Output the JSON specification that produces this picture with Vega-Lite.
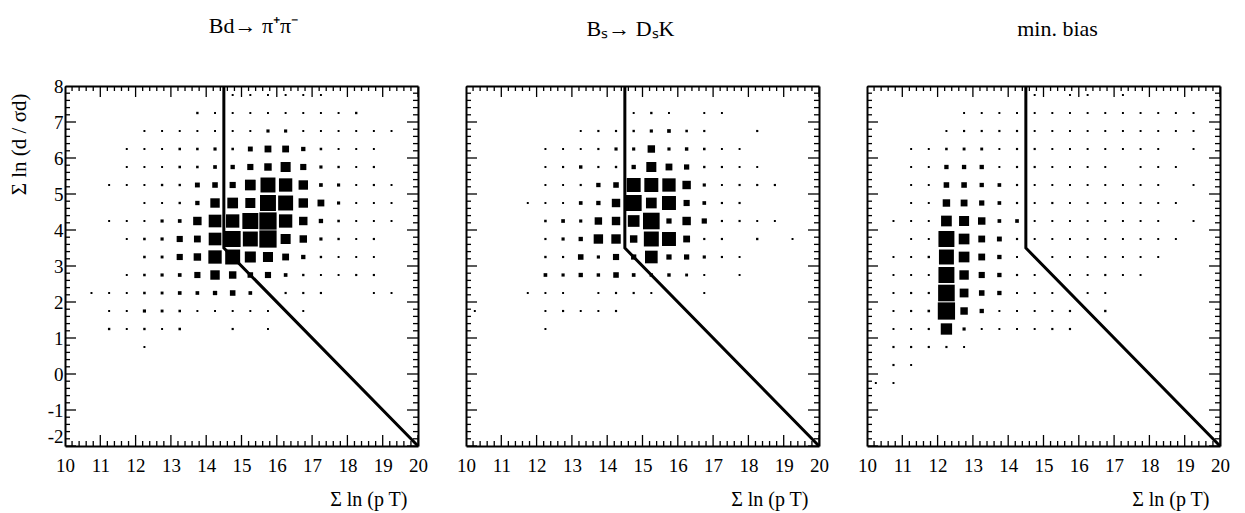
{
"$schema": "https://vega.github.io/schema/vega-lite/v6.json",
"padding": {"left": 8, "top": 15, "right": 5, "bottom": 5},
"config": {
  "view": {"stroke": null},
  "axis": {"grid": false, "domainColor": "black", "domainWidth": 2,
    "labelFont": "'Liberation Serif', serif", "labelFontSize": 19, "labelColor": "black",
    "titleFont": "'Liberation Serif', serif", "titleFontSize": 20, "titleFontWeight": "normal", "titleColor": "black",
    "labelFlush": false, "labelOverlap": false, "labelBound": false},
  "tick": {"color": "black", "opacity": 1, "thickness": 1.3},
  "title": {"font": "'Liberation Serif', serif", "fontSize": 22, "fontWeight": "normal", "color": "black", "frame": "group", "anchor": "middle", "offset": 39}
},
"datasets": {
  "xmaj": [{"v":10},{"v":11},{"v":12},{"v":13},{"v":14},{"v":15},{"v":16},{"v":17},{"v":18},{"v":19},{"v":20}],
  "ymaj": [{"v":-2},{"v":-1},{"v":0},{"v":1},{"v":2},{"v":3},{"v":4},{"v":5},{"v":6},{"v":7},{"v":8}],
  "xmin": [{"v":10.2},{"v":10.4},{"v":10.6},{"v":10.8},{"v":11.2},{"v":11.4},{"v":11.6},{"v":11.8},{"v":12.2},{"v":12.4},{"v":12.6},{"v":12.8},{"v":13.2},{"v":13.4},{"v":13.6},{"v":13.8},{"v":14.2},{"v":14.4},{"v":14.6},{"v":14.8},{"v":15.2},{"v":15.4},{"v":15.6},{"v":15.8},{"v":16.2},{"v":16.4},{"v":16.6},{"v":16.8},{"v":17.2},{"v":17.4},{"v":17.6},{"v":17.8},{"v":18.2},{"v":18.4},{"v":18.6},{"v":18.8},{"v":19.2},{"v":19.4},{"v":19.6},{"v":19.8}],
  "ymin": [{"v":-1.8},{"v":-1.6},{"v":-1.4},{"v":-1.2},{"v":-0.8},{"v":-0.6},{"v":-0.4},{"v":-0.2},{"v":0.2},{"v":0.4},{"v":0.6},{"v":0.8},{"v":1.2},{"v":1.4},{"v":1.6},{"v":1.8},{"v":2.2},{"v":2.4},{"v":2.6},{"v":2.8},{"v":3.2},{"v":3.4},{"v":3.6},{"v":3.8},{"v":4.2},{"v":4.4},{"v":4.6},{"v":4.8},{"v":5.2},{"v":5.4},{"v":5.6},{"v":5.8},{"v":6.2},{"v":6.4},{"v":6.6},{"v":6.8},{"v":7.2},{"v":7.4},{"v":7.6},{"v":7.8}],
  "cut": [{"x": 14.5, "y": 8, "i": 0}, {"x": 14.5, "y": 3.5, "i": 1}, {"x": 20, "y": -2, "i": 2}],
  "p1": [
    {"x":14.75,"y":7.75,"n":1},{"x":15.25,"y":7.75,"n":1},{"x":15.75,"y":7.75,"n":1},{"x":16.25,"y":7.75,"n":1},{"x":16.75,"y":7.75,"n":1},{"x":17.25,"y":7.75,"n":1},
    {"x":13.75,"y":7.25,"n":3},{"x":14.25,"y":7.25,"n":1},{"x":14.75,"y":7.25,"n":1},{"x":15.25,"y":7.25,"n":1},{"x":15.75,"y":7.25,"n":1},{"x":16.25,"y":7.25,"n":1},{"x":16.75,"y":7.25,"n":1},{"x":17.25,"y":7.25,"n":1},{"x":17.75,"y":7.25,"n":1},{"x":18.25,"y":7.25,"n":3},
    {"x":12.25,"y":6.75,"n":1},{"x":12.75,"y":6.75,"n":1},{"x":13.25,"y":6.75,"n":1},{"x":13.75,"y":6.75,"n":1},{"x":14.25,"y":6.75,"n":1},{"x":14.75,"y":6.75,"n":1},{"x":15.25,"y":6.75,"n":1},{"x":15.75,"y":6.75,"n":8},{"x":16.25,"y":6.75,"n":8},{"x":16.75,"y":6.75,"n":1},{"x":17.25,"y":6.75,"n":1},{"x":17.75,"y":6.75,"n":1},{"x":18.25,"y":6.75,"n":1},{"x":18.75,"y":6.75,"n":1},{"x":19.25,"y":6.75,"n":1},
    {"x":11.75,"y":6.25,"n":1},{"x":12.25,"y":6.25,"n":1},{"x":12.75,"y":6.25,"n":1},{"x":13.25,"y":6.25,"n":4},{"x":13.75,"y":6.25,"n":4},{"x":14.25,"y":6.25,"n":8},{"x":14.75,"y":6.25,"n":4},{"x":15.25,"y":6.25,"n":24},{"x":15.75,"y":6.25,"n":50},{"x":16.25,"y":6.25,"n":50},{"x":16.75,"y":6.25,"n":18},{"x":17.25,"y":6.25,"n":4},{"x":17.75,"y":6.25,"n":1},{"x":18.25,"y":6.25,"n":1},{"x":18.75,"y":6.25,"n":1},
    {"x":11.75,"y":5.75,"n":1},{"x":12.25,"y":5.75,"n":1},{"x":12.75,"y":5.75,"n":1},{"x":13.25,"y":5.75,"n":4},{"x":13.75,"y":5.75,"n":4},{"x":14.25,"y":5.75,"n":12},{"x":14.75,"y":5.75,"n":18},{"x":15.25,"y":5.75,"n":40},{"x":15.75,"y":5.75,"n":60},{"x":16.25,"y":5.75,"n":112},{"x":16.75,"y":5.75,"n":40},{"x":17.25,"y":5.75,"n":8},{"x":17.75,"y":5.75,"n":3},{"x":18.25,"y":5.75,"n":1},{"x":18.75,"y":5.75,"n":2},
    {"x":11.25,"y":5.25,"n":1},{"x":11.75,"y":5.25,"n":1},{"x":12.25,"y":5.25,"n":1},{"x":12.75,"y":5.25,"n":3},{"x":13.25,"y":5.25,"n":3},{"x":13.75,"y":5.25,"n":24},{"x":14.25,"y":5.25,"n":32},{"x":14.75,"y":5.25,"n":40},{"x":15.25,"y":5.25,"n":128},{"x":15.75,"y":5.25,"n":253},{"x":16.25,"y":5.25,"n":200},{"x":16.75,"y":5.25,"n":98},{"x":17.25,"y":5.25,"n":12},{"x":17.75,"y":5.25,"n":8},{"x":18.25,"y":5.25,"n":1},{"x":18.75,"y":5.25,"n":2},{"x":19.25,"y":5.25,"n":1},
    {"x":12.25,"y":4.75,"n":1},{"x":12.75,"y":4.75,"n":1},{"x":13.25,"y":4.75,"n":3},{"x":13.75,"y":4.75,"n":18},{"x":14.25,"y":4.75,"n":98},{"x":14.75,"y":4.75,"n":128},{"x":15.25,"y":4.75,"n":112},{"x":15.75,"y":4.75,"n":288},{"x":16.25,"y":4.75,"n":253},{"x":16.75,"y":4.75,"n":98},{"x":17.25,"y":4.75,"n":50},{"x":17.75,"y":4.75,"n":8},{"x":18.25,"y":4.75,"n":1},{"x":18.75,"y":4.75,"n":1},{"x":19.25,"y":4.75,"n":1},
    {"x":11.25,"y":4.25,"n":1},{"x":11.75,"y":4.25,"n":1},{"x":12.25,"y":4.25,"n":1},{"x":12.75,"y":4.25,"n":8},{"x":13.25,"y":4.25,"n":12},{"x":13.75,"y":4.25,"n":78},{"x":14.25,"y":4.25,"n":180},{"x":14.75,"y":4.25,"n":200},{"x":15.25,"y":4.25,"n":288},{"x":15.75,"y":4.25,"n":338},{"x":16.25,"y":4.25,"n":200},{"x":16.75,"y":4.25,"n":78},{"x":17.25,"y":4.25,"n":18},{"x":17.75,"y":4.25,"n":4},{"x":18.25,"y":4.25,"n":1},{"x":18.75,"y":4.25,"n":1},{"x":19.25,"y":4.25,"n":1},
    {"x":11.75,"y":3.75,"n":1},{"x":12.25,"y":3.75,"n":4},{"x":12.75,"y":3.75,"n":8},{"x":13.25,"y":3.75,"n":40},{"x":13.75,"y":3.75,"n":50},{"x":14.25,"y":3.75,"n":180},{"x":14.75,"y":3.75,"n":288},{"x":15.25,"y":3.75,"n":253},{"x":15.75,"y":3.75,"n":338},{"x":16.25,"y":3.75,"n":112},{"x":16.75,"y":3.75,"n":60},{"x":17.25,"y":3.75,"n":8},{"x":17.75,"y":3.75,"n":3},{"x":18.25,"y":3.75,"n":1},{"x":18.75,"y":3.75,"n":2},
    {"x":12.25,"y":3.25,"n":4},{"x":12.75,"y":3.25,"n":6},{"x":13.25,"y":3.25,"n":40},{"x":13.75,"y":3.25,"n":60},{"x":14.25,"y":3.25,"n":200},{"x":14.75,"y":3.25,"n":253},{"x":15.25,"y":3.25,"n":136},{"x":15.75,"y":3.25,"n":112},{"x":16.25,"y":3.25,"n":50},{"x":16.75,"y":3.25,"n":18},{"x":17.25,"y":3.25,"n":3},{"x":17.75,"y":3.25,"n":1},{"x":18.25,"y":3.25,"n":1},{"x":18.75,"y":3.25,"n":1},
    {"x":11.75,"y":2.75,"n":1},{"x":12.25,"y":2.75,"n":4},{"x":12.75,"y":2.75,"n":8},{"x":13.25,"y":2.75,"n":12},{"x":13.75,"y":2.75,"n":40},{"x":14.25,"y":2.75,"n":98},{"x":14.75,"y":2.75,"n":60},{"x":15.25,"y":2.75,"n":32},{"x":15.75,"y":2.75,"n":40},{"x":16.25,"y":2.75,"n":12},{"x":16.75,"y":2.75,"n":3},{"x":17.25,"y":2.75,"n":1},{"x":17.75,"y":2.75,"n":1},{"x":18.25,"y":2.75,"n":2},{"x":18.75,"y":2.75,"n":2},
    {"x":10.75,"y":2.25,"n":1},{"x":11.25,"y":2.25,"n":1},{"x":11.75,"y":2.25,"n":1},{"x":12.25,"y":2.25,"n":4},{"x":12.75,"y":2.25,"n":6},{"x":13.25,"y":2.25,"n":12},{"x":13.75,"y":2.25,"n":12},{"x":14.25,"y":2.25,"n":18},{"x":14.75,"y":2.25,"n":32},{"x":15.25,"y":2.25,"n":12},{"x":16.25,"y":2.25,"n":2},{"x":16.75,"y":2.25,"n":2},{"x":17.25,"y":2.25,"n":2},{"x":18.75,"y":2.25,"n":1},{"x":19.25,"y":2.25,"n":1},
    {"x":11.25,"y":1.75,"n":1},{"x":11.75,"y":1.75,"n":1},{"x":12.25,"y":1.75,"n":8},{"x":12.75,"y":1.75,"n":6},{"x":13.25,"y":1.75,"n":4},{"x":13.75,"y":1.75,"n":1},{"x":14.25,"y":1.75,"n":1},{"x":14.75,"y":1.75,"n":1},{"x":15.25,"y":1.75,"n":1},{"x":15.75,"y":1.75,"n":1},{"x":16.75,"y":1.75,"n":1},
    {"x":11.25,"y":1.25,"n":3},{"x":11.75,"y":1.25,"n":1},{"x":12.25,"y":1.25,"n":3},{"x":12.75,"y":1.25,"n":1},{"x":13.25,"y":1.25,"n":4},{"x":14.75,"y":1.25,"n":2},{"x":15.75,"y":1.25,"n":1},
    {"x":12.25,"y":0.75,"n":1}
  ],
  "p2": [
    {"x":14.75,"y":7.25,"n":1},{"x":15.25,"y":7.25,"n":3},{"x":15.75,"y":7.25,"n":1},{"x":16.75,"y":7.25,"n":1},{"x":17.25,"y":7.25,"n":1},
    {"x":13.25,"y":6.75,"n":1},{"x":13.75,"y":6.75,"n":2},{"x":14.25,"y":6.75,"n":2},{"x":14.75,"y":6.75,"n":3},{"x":15.25,"y":6.75,"n":8},{"x":15.75,"y":6.75,"n":12},{"x":16.25,"y":6.75,"n":4},{"x":16.75,"y":6.75,"n":2},{"x":18.25,"y":6.75,"n":2},
    {"x":12.25,"y":6.25,"n":1},{"x":12.75,"y":6.25,"n":1},{"x":13.25,"y":6.25,"n":1},{"x":13.75,"y":6.25,"n":2},{"x":14.25,"y":6.25,"n":8},{"x":14.75,"y":6.25,"n":8},{"x":15.25,"y":6.25,"n":60},{"x":15.75,"y":6.25,"n":8},{"x":16.25,"y":6.25,"n":10},{"x":16.75,"y":6.25,"n":4},{"x":17.25,"y":6.25,"n":1},{"x":17.75,"y":6.25,"n":1},
    {"x":12.25,"y":5.75,"n":1},{"x":12.75,"y":5.75,"n":2},{"x":13.25,"y":5.75,"n":10},{"x":13.75,"y":5.75,"n":2},{"x":14.25,"y":5.75,"n":3},{"x":14.75,"y":5.75,"n":18},{"x":15.25,"y":5.75,"n":112},{"x":15.75,"y":5.75,"n":50},{"x":16.25,"y":5.75,"n":28},{"x":16.75,"y":5.75,"n":3},{"x":17.25,"y":5.75,"n":2},{"x":17.75,"y":5.75,"n":1},{"x":18.25,"y":5.75,"n":1},
    {"x":12.25,"y":5.25,"n":1},{"x":12.75,"y":5.25,"n":1},{"x":13.25,"y":5.25,"n":2},{"x":13.75,"y":5.25,"n":18},{"x":14.25,"y":5.25,"n":32},{"x":14.75,"y":5.25,"n":220},{"x":15.25,"y":5.25,"n":220},{"x":15.75,"y":5.25,"n":200},{"x":16.25,"y":5.25,"n":78},{"x":16.75,"y":5.25,"n":8},{"x":17.25,"y":5.25,"n":1},{"x":17.75,"y":5.25,"n":2},{"x":18.25,"y":5.25,"n":2},{"x":18.75,"y":5.25,"n":2},
    {"x":11.75,"y":4.75,"n":1},{"x":12.25,"y":4.75,"n":1},{"x":12.75,"y":4.75,"n":1},{"x":13.25,"y":4.75,"n":12},{"x":13.75,"y":4.75,"n":18},{"x":14.25,"y":4.75,"n":78},{"x":14.75,"y":4.75,"n":288},{"x":15.25,"y":4.75,"n":128},{"x":15.75,"y":4.75,"n":220},{"x":16.25,"y":4.75,"n":40},{"x":16.75,"y":4.75,"n":12},{"x":17.25,"y":4.75,"n":2},{"x":17.75,"y":4.75,"n":2},
    {"x":12.25,"y":4.25,"n":4},{"x":12.75,"y":4.25,"n":12},{"x":13.25,"y":4.25,"n":8},{"x":13.75,"y":4.25,"n":60},{"x":14.25,"y":4.25,"n":78},{"x":14.75,"y":4.25,"n":153},{"x":15.25,"y":4.25,"n":312},{"x":15.75,"y":4.25,"n":28},{"x":16.25,"y":4.25,"n":78},{"x":16.75,"y":4.25,"n":28},{"x":17.25,"y":4.25,"n":2},{"x":17.75,"y":4.25,"n":2},{"x":18.25,"y":4.25,"n":1},{"x":18.75,"y":4.25,"n":1},
    {"x":12.25,"y":3.75,"n":2},{"x":12.75,"y":3.75,"n":8},{"x":13.25,"y":3.75,"n":18},{"x":13.75,"y":3.75,"n":98},{"x":14.25,"y":3.75,"n":98},{"x":14.75,"y":3.75,"n":60},{"x":15.25,"y":3.75,"n":253},{"x":15.75,"y":3.75,"n":220},{"x":16.25,"y":3.75,"n":50},{"x":16.75,"y":3.75,"n":2},{"x":17.25,"y":3.75,"n":2},{"x":18.25,"y":3.75,"n":3},{"x":19.25,"y":3.75,"n":1},
    {"x":12.25,"y":3.25,"n":3},{"x":12.75,"y":3.25,"n":2},{"x":13.25,"y":3.25,"n":32},{"x":13.75,"y":3.25,"n":8},{"x":14.25,"y":3.25,"n":40},{"x":14.75,"y":3.25,"n":28},{"x":15.25,"y":3.25,"n":180},{"x":15.75,"y":3.25,"n":28},{"x":16.25,"y":3.25,"n":28},{"x":16.75,"y":3.25,"n":8},{"x":17.25,"y":3.25,"n":2},{"x":17.75,"y":3.25,"n":1},
    {"x":12.25,"y":2.75,"n":12},{"x":12.75,"y":2.75,"n":8},{"x":13.25,"y":2.75,"n":18},{"x":13.75,"y":2.75,"n":10},{"x":14.25,"y":2.75,"n":32},{"x":14.75,"y":2.75,"n":12},{"x":15.25,"y":2.75,"n":10},{"x":15.75,"y":2.75,"n":10},{"x":16.25,"y":2.75,"n":6},{"x":16.75,"y":2.75,"n":1},{"x":17.75,"y":2.75,"n":1},
    {"x":11.75,"y":2.25,"n":1},{"x":12.25,"y":2.25,"n":1},{"x":12.75,"y":2.25,"n":1},{"x":13.75,"y":2.25,"n":1},{"x":14.25,"y":2.25,"n":2},{"x":14.75,"y":2.25,"n":2},{"x":15.25,"y":2.25,"n":1},{"x":16.75,"y":2.25,"n":1},
    {"x":10.25,"y":1.75,"n":1},{"x":12.25,"y":1.75,"n":1},{"x":12.75,"y":1.75,"n":2},{"x":13.25,"y":1.75,"n":1},{"x":13.75,"y":1.75,"n":1},{"x":14.25,"y":1.75,"n":2},
    {"x":12.25,"y":1.25,"n":1}
  ],
  "p3": [
    {"x":14.75,"y":7.75,"n":1},{"x":15.75,"y":7.75,"n":1},{"x":16.25,"y":7.75,"n":1},{"x":17.25,"y":7.75,"n":1},
    {"x":12.75,"y":7.25,"n":1},{"x":13.25,"y":7.25,"n":1},{"x":13.75,"y":7.25,"n":1},{"x":14.25,"y":7.25,"n":1},{"x":14.75,"y":7.25,"n":1},{"x":15.25,"y":7.25,"n":1},{"x":15.75,"y":7.25,"n":1},{"x":16.25,"y":7.25,"n":1},{"x":16.75,"y":7.25,"n":1},{"x":17.25,"y":7.25,"n":1},{"x":17.75,"y":7.25,"n":1},{"x":18.25,"y":7.25,"n":1},{"x":18.75,"y":7.25,"n":1},{"x":19.25,"y":7.25,"n":1},
    {"x":12.25,"y":6.75,"n":1},{"x":12.75,"y":6.75,"n":2},{"x":13.25,"y":6.75,"n":2},{"x":13.75,"y":6.75,"n":2},{"x":14.25,"y":6.75,"n":2},{"x":14.75,"y":6.75,"n":1},{"x":15.25,"y":6.75,"n":1},{"x":15.75,"y":6.75,"n":1},{"x":16.25,"y":6.75,"n":1},{"x":16.75,"y":6.75,"n":1},{"x":17.25,"y":6.75,"n":1},{"x":17.75,"y":6.75,"n":1},{"x":18.25,"y":6.75,"n":1},{"x":18.75,"y":6.75,"n":1},{"x":19.25,"y":6.75,"n":1},
    {"x":11.25,"y":6.25,"n":1},{"x":11.75,"y":6.25,"n":1},{"x":12.25,"y":6.25,"n":4},{"x":12.75,"y":6.25,"n":6},{"x":13.25,"y":6.25,"n":6},{"x":13.75,"y":6.25,"n":1},{"x":14.25,"y":6.25,"n":2},{"x":14.75,"y":6.25,"n":2},{"x":15.25,"y":6.25,"n":1},{"x":15.75,"y":6.25,"n":1},{"x":16.25,"y":6.25,"n":1},{"x":16.75,"y":6.25,"n":1},{"x":17.25,"y":6.25,"n":1},{"x":17.75,"y":6.25,"n":1},{"x":18.25,"y":6.25,"n":1},{"x":19.25,"y":6.25,"n":1},
    {"x":11.25,"y":5.75,"n":1},{"x":11.75,"y":5.75,"n":1},{"x":12.25,"y":5.75,"n":18},{"x":12.75,"y":5.75,"n":18},{"x":13.25,"y":5.75,"n":18},{"x":13.75,"y":5.75,"n":1},{"x":14.25,"y":5.75,"n":2},{"x":14.75,"y":5.75,"n":2},{"x":15.25,"y":5.75,"n":1},{"x":15.75,"y":5.75,"n":1},{"x":16.25,"y":5.75,"n":1},{"x":16.75,"y":5.75,"n":1},{"x":17.75,"y":5.75,"n":1},{"x":18.25,"y":5.75,"n":1},{"x":18.75,"y":5.75,"n":1},
    {"x":11.25,"y":5.25,"n":1},{"x":11.75,"y":5.25,"n":1},{"x":12.25,"y":5.25,"n":32},{"x":12.75,"y":5.25,"n":32},{"x":13.25,"y":5.25,"n":18},{"x":13.75,"y":5.25,"n":12},{"x":14.25,"y":5.25,"n":2},{"x":14.75,"y":5.25,"n":1},{"x":15.25,"y":5.25,"n":1},{"x":15.75,"y":5.25,"n":1},{"x":16.25,"y":5.25,"n":1},{"x":16.75,"y":5.25,"n":1},{"x":17.25,"y":5.25,"n":1},{"x":17.75,"y":5.25,"n":1},{"x":18.25,"y":5.25,"n":1},{"x":19.25,"y":5.25,"n":1},
    {"x":11.25,"y":4.75,"n":1},{"x":11.75,"y":4.75,"n":1},{"x":12.25,"y":4.75,"n":60},{"x":12.75,"y":4.75,"n":50},{"x":13.25,"y":4.75,"n":28},{"x":13.75,"y":4.75,"n":12},{"x":14.25,"y":4.75,"n":2},{"x":14.75,"y":4.75,"n":1},{"x":15.25,"y":4.75,"n":2},{"x":15.75,"y":4.75,"n":1},{"x":16.25,"y":4.75,"n":1},{"x":16.75,"y":4.75,"n":1},{"x":17.25,"y":4.75,"n":1},{"x":17.75,"y":4.75,"n":1},{"x":18.25,"y":4.75,"n":1},{"x":18.75,"y":4.75,"n":1},
    {"x":10.75,"y":4.25,"n":1},{"x":11.25,"y":4.25,"n":1},{"x":11.75,"y":4.25,"n":1},{"x":12.25,"y":4.25,"n":128},{"x":12.75,"y":4.25,"n":112},{"x":13.25,"y":4.25,"n":60},{"x":13.75,"y":4.25,"n":12},{"x":14.25,"y":4.25,"n":12},{"x":14.75,"y":4.25,"n":1},{"x":15.25,"y":4.25,"n":1},{"x":15.75,"y":4.25,"n":1},{"x":16.25,"y":4.25,"n":1},{"x":16.75,"y":4.25,"n":1},{"x":17.25,"y":4.25,"n":1},{"x":17.75,"y":4.25,"n":1},{"x":18.25,"y":4.25,"n":1},{"x":19.25,"y":4.25,"n":1},
    {"x":11.25,"y":3.75,"n":1},{"x":11.75,"y":3.75,"n":1},{"x":12.25,"y":3.75,"n":288},{"x":12.75,"y":3.75,"n":128},{"x":13.25,"y":3.75,"n":50},{"x":13.75,"y":3.75,"n":24},{"x":14.25,"y":3.75,"n":2},{"x":14.75,"y":3.75,"n":1},{"x":15.25,"y":3.75,"n":1},{"x":15.75,"y":3.75,"n":1},{"x":16.25,"y":3.75,"n":1},{"x":16.75,"y":3.75,"n":1},{"x":17.25,"y":3.75,"n":1},{"x":17.75,"y":3.75,"n":1},{"x":18.25,"y":3.75,"n":1},{"x":18.75,"y":3.75,"n":1},
    {"x":10.75,"y":3.25,"n":1},{"x":11.25,"y":3.25,"n":1},{"x":11.75,"y":3.25,"n":3},{"x":12.25,"y":3.25,"n":253},{"x":12.75,"y":3.25,"n":128},{"x":13.25,"y":3.25,"n":50},{"x":13.75,"y":3.25,"n":18},{"x":14.25,"y":3.25,"n":1},{"x":14.75,"y":3.25,"n":1},{"x":15.25,"y":3.25,"n":1},{"x":15.75,"y":3.25,"n":1},{"x":16.25,"y":3.25,"n":1},{"x":16.75,"y":3.25,"n":1},{"x":17.25,"y":3.25,"n":1},{"x":17.75,"y":3.25,"n":1},{"x":18.25,"y":3.25,"n":1},
    {"x":10.75,"y":2.75,"n":1},{"x":11.25,"y":2.75,"n":1},{"x":11.75,"y":2.75,"n":1},{"x":12.25,"y":2.75,"n":288},{"x":12.75,"y":2.75,"n":98},{"x":13.25,"y":2.75,"n":40},{"x":13.75,"y":2.75,"n":18},{"x":14.25,"y":2.75,"n":2},{"x":14.75,"y":2.75,"n":1},{"x":15.75,"y":2.75,"n":1},{"x":16.25,"y":2.75,"n":1},{"x":16.75,"y":2.75,"n":2},{"x":17.25,"y":2.75,"n":1},{"x":17.75,"y":2.75,"n":1},
    {"x":10.75,"y":2.25,"n":1},{"x":11.25,"y":2.25,"n":2},{"x":11.75,"y":2.25,"n":2},{"x":12.25,"y":2.25,"n":312},{"x":12.75,"y":2.25,"n":85},{"x":13.25,"y":2.25,"n":32},{"x":13.75,"y":2.25,"n":18},{"x":14.25,"y":2.25,"n":1},{"x":14.75,"y":2.25,"n":1},{"x":15.25,"y":2.25,"n":1},{"x":16.25,"y":2.25,"n":1},{"x":16.75,"y":2.25,"n":1},
    {"x":10.75,"y":1.75,"n":1},{"x":11.25,"y":1.75,"n":2},{"x":11.75,"y":1.75,"n":4},{"x":12.25,"y":1.75,"n":338},{"x":12.75,"y":1.75,"n":60},{"x":13.25,"y":1.75,"n":18},{"x":13.75,"y":1.75,"n":1},{"x":14.25,"y":1.75,"n":1},{"x":14.75,"y":1.75,"n":1},{"x":15.25,"y":1.75,"n":1},{"x":15.75,"y":1.75,"n":2},{"x":16.75,"y":1.75,"n":3},
    {"x":10.75,"y":1.25,"n":1},{"x":11.25,"y":1.25,"n":1},{"x":11.75,"y":1.25,"n":2},{"x":12.25,"y":1.25,"n":144},{"x":12.75,"y":1.25,"n":8},{"x":13.25,"y":1.25,"n":1},{"x":13.75,"y":1.25,"n":1},{"x":14.25,"y":1.25,"n":1},{"x":14.75,"y":1.25,"n":1},{"x":15.25,"y":1.25,"n":2},{"x":15.75,"y":1.25,"n":2},
    {"x":10.75,"y":0.75,"n":2},{"x":11.25,"y":0.75,"n":2},{"x":11.75,"y":0.75,"n":2},{"x":12.25,"y":0.75,"n":2},{"x":12.75,"y":0.75,"n":1},
    {"x":10.75,"y":0.25,"n":2},{"x":11.25,"y":0.25,"n":1},
    {"x":10.25,"y":-0.25,"n":1},{"x":10.75,"y":-0.25,"n":1}
  ]
},
"spacing": 48,
"bounds": "flush",
"hconcat": [
  {
    "title": {"text": "Bd→ π⁺π⁻", "dx": 12},
    "width": 353, "height": 360,
    "resolve": {"axis": {"x": "independent", "y": "independent"}},
    "layer": [
      {"data": {"name": "p1"},
       "mark": {"type": "point", "shape": "square", "filled": true, "color": "black", "opacity": 1, "strokeWidth": 0},
       "encoding": {
         "x": {"field": "x", "type": "quantitative", "scale": {"domain": [10, 20], "nice": false, "zero": false},
               "axis": {"orient": "bottom", "values": [10,11,12,13,14,15,16,17,18,19,20], "ticks": false, "labelPadding": 10, "labelExpr": "datum.value + ''", "title": "Σ ln (p  T)", "titleAnchor": "end", "titleX": 342, "titlePadding": 14}},
         "y": {"field": "y", "type": "quantitative", "scale": {"domain": [-2, 8], "nice": false, "zero": false},
               "axis": {"orient": "left", "values": [-2,-1,0,1,2,3,4,5,6,7,8], "ticks": false, "labelPadding": 2, "labelExpr": "datum.value + ''", "labelBaseline": {"condition": {"test": "datum.value == -2", "value": "bottom"}, "value": "middle"}, "title": "Σ ln (d /  σd)", "titleFontSize": 21, "titleAnchor": "end", "titleY": 7, "titlePadding": 18}},
         "size": {"field": "n", "type": "quantitative", "scale": {"type": "linear", "domain": [0, 340], "range": [3, 300]}, "legend": null}
       }},
      {"data": {"name": "cut"},
       "mark": {"type": "line", "color": "black", "strokeWidth": 3},
       "encoding": {
         "x": {"field": "x", "type": "quantitative", "axis": {"orient": "top", "ticks": false, "labels": false, "title": null}},
         "y": {"field": "y", "type": "quantitative", "axis": {"orient": "right", "ticks": false, "labels": false, "title": null}},
         "order": {"field": "i"}
       }},
      {"data": {"name": "xmaj"}, "mark": {"type": "tick", "orient": "vertical", "size": 22, "clip": true},
       "encoding": {"x": {"field": "v", "type": "quantitative", "axis": null}, "y": {"datum": -2, "type": "quantitative", "axis": null}}},
      {"data": {"name": "xmaj"}, "mark": {"type": "tick", "orient": "vertical", "size": 22, "clip": true},
       "encoding": {"x": {"field": "v", "type": "quantitative", "axis": null}, "y": {"datum": 8, "type": "quantitative", "axis": null}}},
      {"data": {"name": "xmin"}, "mark": {"type": "tick", "orient": "vertical", "size": 10, "clip": true},
       "encoding": {"x": {"field": "v", "type": "quantitative", "axis": null}, "y": {"datum": -2, "type": "quantitative", "axis": null}}},
      {"data": {"name": "xmin"}, "mark": {"type": "tick", "orient": "vertical", "size": 10, "clip": true},
       "encoding": {"x": {"field": "v", "type": "quantitative", "axis": null}, "y": {"datum": 8, "type": "quantitative", "axis": null}}},
      {"data": {"name": "ymaj"}, "mark": {"type": "tick", "orient": "horizontal", "size": 22, "clip": true},
       "encoding": {"y": {"field": "v", "type": "quantitative", "axis": null}, "x": {"datum": 10, "type": "quantitative", "axis": null}}},
      {"data": {"name": "ymaj"}, "mark": {"type": "tick", "orient": "horizontal", "size": 22, "clip": true},
       "encoding": {"y": {"field": "v", "type": "quantitative", "axis": null}, "x": {"datum": 20, "type": "quantitative", "axis": null}}},
      {"data": {"name": "ymin"}, "mark": {"type": "tick", "orient": "horizontal", "size": 10, "clip": true},
       "encoding": {"y": {"field": "v", "type": "quantitative", "axis": null}, "x": {"datum": 10, "type": "quantitative", "axis": null}}},
      {"data": {"name": "ymin"}, "mark": {"type": "tick", "orient": "horizontal", "size": 10, "clip": true},
       "encoding": {"y": {"field": "v", "type": "quantitative", "axis": null}, "x": {"datum": 20, "type": "quantitative", "axis": null}}}
    ]
  },
  {
    "title": {"text": "Bₛ→ DₛK", "dx": -12},
    "width": 353, "height": 360,
    "resolve": {"axis": {"x": "independent", "y": "independent"}},
    "layer": [
      {"data": {"name": "p2"},
       "mark": {"type": "point", "shape": "square", "filled": true, "color": "black", "opacity": 1, "strokeWidth": 0},
       "encoding": {
         "x": {"field": "x", "type": "quantitative", "scale": {"domain": [10, 20], "nice": false, "zero": false},
               "axis": {"orient": "bottom", "values": [10,11,12,13,14,15,16,17,18,19,20], "ticks": false, "labelPadding": 10, "labelExpr": "datum.value + ''", "title": "Σ ln (p  T)", "titleAnchor": "end", "titleX": 342, "titlePadding": 14}},
         "y": {"field": "y", "type": "quantitative", "scale": {"domain": [-2, 8], "nice": false, "zero": false},
               "axis": {"orient": "left", "ticks": false, "labels": false, "title": null}},
         "size": {"field": "n", "type": "quantitative", "scale": {"type": "linear", "domain": [0, 340], "range": [3, 300]}, "legend": null}
       }},
      {"data": {"name": "cut"},
       "mark": {"type": "line", "color": "black", "strokeWidth": 3},
       "encoding": {
         "x": {"field": "x", "type": "quantitative", "axis": {"orient": "top", "ticks": false, "labels": false, "title": null}},
         "y": {"field": "y", "type": "quantitative", "axis": {"orient": "right", "ticks": false, "labels": false, "title": null}},
         "order": {"field": "i"}
       }},
      {"data": {"name": "xmaj"}, "mark": {"type": "tick", "orient": "vertical", "size": 22, "clip": true},
       "encoding": {"x": {"field": "v", "type": "quantitative", "axis": null}, "y": {"datum": -2, "type": "quantitative", "axis": null}}},
      {"data": {"name": "xmaj"}, "mark": {"type": "tick", "orient": "vertical", "size": 22, "clip": true},
       "encoding": {"x": {"field": "v", "type": "quantitative", "axis": null}, "y": {"datum": 8, "type": "quantitative", "axis": null}}},
      {"data": {"name": "xmin"}, "mark": {"type": "tick", "orient": "vertical", "size": 10, "clip": true},
       "encoding": {"x": {"field": "v", "type": "quantitative", "axis": null}, "y": {"datum": -2, "type": "quantitative", "axis": null}}},
      {"data": {"name": "xmin"}, "mark": {"type": "tick", "orient": "vertical", "size": 10, "clip": true},
       "encoding": {"x": {"field": "v", "type": "quantitative", "axis": null}, "y": {"datum": 8, "type": "quantitative", "axis": null}}},
      {"data": {"name": "ymaj"}, "mark": {"type": "tick", "orient": "horizontal", "size": 22, "clip": true},
       "encoding": {"y": {"field": "v", "type": "quantitative", "axis": null}, "x": {"datum": 10, "type": "quantitative", "axis": null}}},
      {"data": {"name": "ymaj"}, "mark": {"type": "tick", "orient": "horizontal", "size": 22, "clip": true},
       "encoding": {"y": {"field": "v", "type": "quantitative", "axis": null}, "x": {"datum": 20, "type": "quantitative", "axis": null}}},
      {"data": {"name": "ymin"}, "mark": {"type": "tick", "orient": "horizontal", "size": 10, "clip": true},
       "encoding": {"y": {"field": "v", "type": "quantitative", "axis": null}, "x": {"datum": 10, "type": "quantitative", "axis": null}}},
      {"data": {"name": "ymin"}, "mark": {"type": "tick", "orient": "horizontal", "size": 10, "clip": true},
       "encoding": {"y": {"field": "v", "type": "quantitative", "axis": null}, "x": {"datum": 20, "type": "quantitative", "axis": null}}}
    ]
  },
  {
    "title": {"text": "min. bias", "dx": 14},
    "width": 353, "height": 360,
    "resolve": {"axis": {"x": "independent", "y": "independent"}},
    "layer": [
      {"data": {"name": "p3"},
       "mark": {"type": "point", "shape": "square", "filled": true, "color": "black", "opacity": 1, "strokeWidth": 0},
       "encoding": {
         "x": {"field": "x", "type": "quantitative", "scale": {"domain": [10, 20], "nice": false, "zero": false},
               "axis": {"orient": "bottom", "values": [10,11,12,13,14,15,16,17,18,19,20], "ticks": false, "labelPadding": 10, "labelExpr": "datum.value + ''", "title": "Σ ln (p  T)", "titleAnchor": "end", "titleX": 342, "titlePadding": 14}},
         "y": {"field": "y", "type": "quantitative", "scale": {"domain": [-2, 8], "nice": false, "zero": false},
               "axis": {"orient": "left", "ticks": false, "labels": false, "title": null}},
         "size": {"field": "n", "type": "quantitative", "scale": {"type": "linear", "domain": [0, 340], "range": [3, 300]}, "legend": null}
       }},
      {"data": {"name": "cut"},
       "mark": {"type": "line", "color": "black", "strokeWidth": 3},
       "encoding": {
         "x": {"field": "x", "type": "quantitative", "axis": {"orient": "top", "ticks": false, "labels": false, "title": null}},
         "y": {"field": "y", "type": "quantitative", "axis": {"orient": "right", "ticks": false, "labels": false, "title": null}},
         "order": {"field": "i"}
       }},
      {"data": {"name": "xmaj"}, "mark": {"type": "tick", "orient": "vertical", "size": 22, "clip": true},
       "encoding": {"x": {"field": "v", "type": "quantitative", "axis": null}, "y": {"datum": -2, "type": "quantitative", "axis": null}}},
      {"data": {"name": "xmaj"}, "mark": {"type": "tick", "orient": "vertical", "size": 22, "clip": true},
       "encoding": {"x": {"field": "v", "type": "quantitative", "axis": null}, "y": {"datum": 8, "type": "quantitative", "axis": null}}},
      {"data": {"name": "xmin"}, "mark": {"type": "tick", "orient": "vertical", "size": 10, "clip": true},
       "encoding": {"x": {"field": "v", "type": "quantitative", "axis": null}, "y": {"datum": -2, "type": "quantitative", "axis": null}}},
      {"data": {"name": "xmin"}, "mark": {"type": "tick", "orient": "vertical", "size": 10, "clip": true},
       "encoding": {"x": {"field": "v", "type": "quantitative", "axis": null}, "y": {"datum": 8, "type": "quantitative", "axis": null}}},
      {"data": {"name": "ymaj"}, "mark": {"type": "tick", "orient": "horizontal", "size": 22, "clip": true},
       "encoding": {"y": {"field": "v", "type": "quantitative", "axis": null}, "x": {"datum": 10, "type": "quantitative", "axis": null}}},
      {"data": {"name": "ymaj"}, "mark": {"type": "tick", "orient": "horizontal", "size": 22, "clip": true},
       "encoding": {"y": {"field": "v", "type": "quantitative", "axis": null}, "x": {"datum": 20, "type": "quantitative", "axis": null}}},
      {"data": {"name": "ymin"}, "mark": {"type": "tick", "orient": "horizontal", "size": 10, "clip": true},
       "encoding": {"y": {"field": "v", "type": "quantitative", "axis": null}, "x": {"datum": 10, "type": "quantitative", "axis": null}}},
      {"data": {"name": "ymin"}, "mark": {"type": "tick", "orient": "horizontal", "size": 10, "clip": true},
       "encoding": {"y": {"field": "v", "type": "quantitative", "axis": null}, "x": {"datum": 20, "type": "quantitative", "axis": null}}}
    ]
  }
]
}
